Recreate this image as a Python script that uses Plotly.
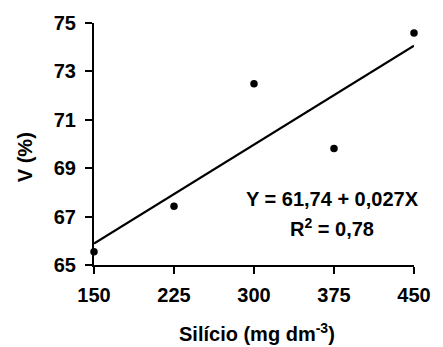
import numpy as np
import plotly.graph_objects as go

silicio = [150, 225, 300, 375, 450]
v_pct = [65.55, 67.43, 72.49, 69.81, 74.59]
x_ticks = [150, 225, 300, 375, 450]
y_ticks = [65, 67, 69, 71, 73, 75]
equation_text = "Y = 61,74 + 0,027X"
r2_text = "R<sup>2</sup> = 0,78"

slope, intercept = np.polyfit(silicio, v_pct, 1)
fit_x = [min(silicio), max(silicio)]
fit_y = [intercept + slope * xv for xv in fit_x]

FONT = "Liberation Sans"
SIZE = 20

fig = go.Figure()
fig.add_trace(go.Scatter(x=fit_x, y=fit_y, mode="lines",
                         line=dict(color="black", width=2.2), cliponaxis=False,
                         showlegend=False, hoverinfo="skip"))
fig.add_trace(go.Scatter(x=silicio, y=v_pct, mode="markers",
                         marker=dict(color="black", size=7.5), cliponaxis=False,
                         showlegend=False))

axis_common = dict(showline=True, linecolor="black", linewidth=2,
                   ticks="outside", ticklen=7, tickwidth=2, tickcolor="black",
                   showgrid=False, zeroline=False,
                   tickfont=dict(family=FONT, size=SIZE, color="black"))

fig.update_xaxes(range=[150, 450], tickvals=x_ticks,
                 ticktext=["<b>%d</b>" % t for t in x_ticks], ticklabelstandoff=4, **axis_common)
fig.update_yaxes(range=[65, 75], tickvals=y_ticks,
                 ticktext=["<b>%d</b>" % t for t in y_ticks], ticklabelstandoff=5, **axis_common)

afont = dict(family=FONT, size=SIZE, color="black")
fig.add_annotation(text="<b>" + equation_text + "</b>", xref="paper", yref="paper",
                   x=(342 - 93.5) / 333, y=(265 - 198) / 244, xanchor="center", yanchor="middle",
                   showarrow=False, font=afont)
fig.add_annotation(text="<b>" + r2_text + "</b>", xref="paper", yref="paper",
                   x=(341 - 93.5) / 333, y=(265 - 227) / 244, xanchor="center", yanchor="middle",
                   showarrow=False, font=afont)
fig.add_annotation(text="<b>V (%)</b>", xref="paper", yref="paper", textangle=-90,
                   x=(22 - 93.5) / 333, y=(265 - 156) / 244, xanchor="center", yanchor="middle",
                   showarrow=False, font=afont)
fig.add_annotation(text="<b>Silício (mg dm<sup>-3</sup>)</b>", xref="paper", yref="paper",
                   x=(263 - 93.5) / 333, y=(265 - 333) / 244, xanchor="center", yanchor="middle",
                   showarrow=False, font=afont)

fig.update_layout(width=443, height=347, margin=dict(l=93.5, r=16.5, t=21, b=82),
                  paper_bgcolor="white", plot_bgcolor="white")

fig.write_html("out.html")
